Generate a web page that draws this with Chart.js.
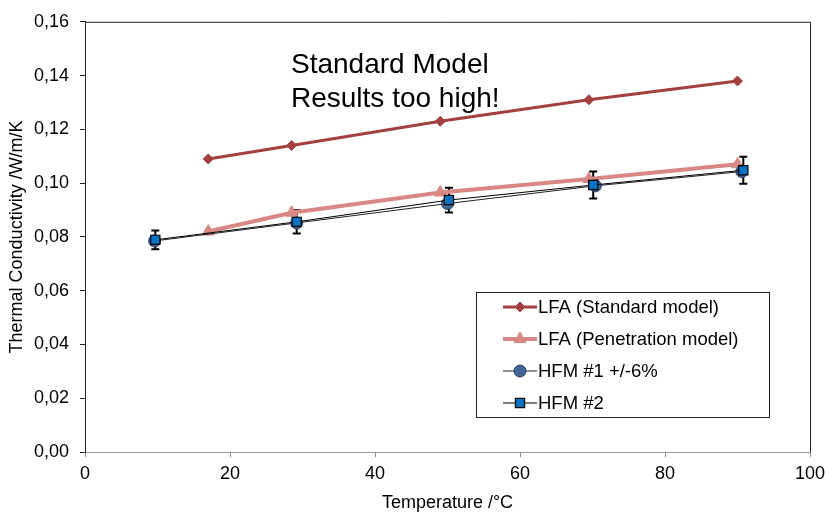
<!DOCTYPE html>
<html><head><meta charset="utf-8">
<script src="https://cdn.jsdelivr.net/npm/chart.js@4.4.1/dist/chart.umd.min.js"></script>
<style>html,body{margin:0;padding:0;background:#fff}#wrap{width:825px;height:516px}</style>
</head><body><div id="wrap"><canvas id="c" width="825" height="516"></canvas></div>
<script>
const stdX = [17, 28.5, 49, 69.5, 90];
const stdY = [0.109, 0.114, 0.123, 0.131, 0.138];
const penX = [17, 28.5, 49, 69.5, 90];
const penY = [0.082, 0.089, 0.0965, 0.1015, 0.107];
const hfm1X = [9.6, 29.2, 50, 70.4, 90.6];
const hfm1Y = [0.0785, 0.0852, 0.0924, 0.0990, 0.1043];
const hfm2X = [9.7, 29.2, 50.2, 70.1, 90.8];
const hfm2Y = [0.0789, 0.0856, 0.0937, 0.0993, 0.1048];
const hfm2Err = [0.0035, 0.0043, 0.0046, 0.005, 0.005];
const xTicks = [0, 20, 40, 60, 80, 100];
const yTicks = [0, 0.02, 0.04, 0.06, 0.08, 0.10, 0.12, 0.14, 0.16];
const noteLines = ["Standard Model", "Results too high!"];
const legendLabels = ["LFA (Standard model)", "LFA (Penetration model)", "HFM #1 +/-6%", "HFM #2"];

const pts = (xs, ys) => xs.map((x, i) => ({x: x, y: ys[i]}));
const FONT = "'Liberation Sans', Arial, sans-serif";

const datasets = [
  {label: legendLabels[0], data: pts(stdX, stdY), borderColor: '#A33F3F', backgroundColor: '#A33F3F',
   borderWidth: 3, pointStyle: 'rectRot', pointRadius: 5, pointBorderWidth: 1, order: 3},
  {label: legendLabels[1], data: pts(penX, penY), borderColor: '#D88784', backgroundColor: '#D88784',
   borderWidth: 4, pointStyle: 'triangle', pointRadius: 7, pointBorderWidth: 1, order: 2},
  {label: legendLabels[2], data: pts(hfm1X, hfm1Y), borderColor: '#222', backgroundColor: '#3F6496',
   borderWidth: 1, pointStyle: 'circle', pointRadius: 6, pointBorderColor: '#2a3f5f', pointBorderWidth: 1, order: 1},
  {label: legendLabels[3], data: pts(hfm2X, hfm2Y), borderColor: '#000', backgroundColor: '#0074C4',
   borderWidth: 1, pointStyle: 'rect', pointRadius: 6.5, pointBorderColor: '#000', pointBorderWidth: 1.2, order: 0}
];
datasets.forEach(d => { d.showLine = true; d.tension = 0; d.fill = false; });

const extras = {
  id: 'extras',
  beforeDatasetsDraw(chart) {
    const {ctx} = chart, xs = chart.scales.x, ys = chart.scales.y;
    ctx.save();
    ctx.strokeStyle = '#000'; ctx.lineWidth = 2;
    hfm2X.forEach((x, i) => {
      const px = xs.getPixelForValue(x);
      const t = ys.getPixelForValue(hfm2Y[i] + hfm2Err[i]);
      const b = ys.getPixelForValue(hfm2Y[i] - hfm2Err[i]);
      ctx.beginPath();
      ctx.moveTo(px, t); ctx.lineTo(px, b);
      ctx.moveTo(px - 4, t); ctx.lineTo(px + 4, t);
      ctx.moveTo(px - 4, b); ctx.lineTo(px + 4, b);
      ctx.stroke();
    });
    ctx.restore();
  },
  afterDraw(chart) {
    const {ctx, chartArea: a} = chart;
    ctx.save();
    ctx.strokeStyle = '#222'; ctx.lineWidth = 1;
    ctx.beginPath();
    ctx.moveTo(a.left, a.top + 0.5); ctx.lineTo(a.right + 0.5, a.top + 0.5); ctx.lineTo(a.right + 0.5, a.bottom);
    ctx.stroke();
    ctx.fillStyle = '#000'; ctx.font = '28px ' + FONT; ctx.textBaseline = 'alphabetic'; ctx.textAlign = 'left';
    ctx.fillText(noteLines[0], 291, 73);
    ctx.fillText(noteLines[1], 291, 107);
    const L = 476, T = 292, R = 769, B = 417;
    ctx.fillStyle = '#fff'; ctx.fillRect(L, T, R - L, B - T);
    ctx.strokeStyle = '#222'; ctx.lineWidth = 1;
    ctx.strokeRect(L + 0.5, T + 0.5, R - L, B - T);
    const rows = [307, 339, 371, 403];
    ctx.font = '18.5px ' + FONT; ctx.textBaseline = 'middle';
    chart.data.datasets.forEach((d, i) => {
      const y = rows[i];
      ctx.strokeStyle = d.borderColor; ctx.lineWidth = d.borderWidth;
      ctx.beginPath(); ctx.moveTo(503, y); ctx.lineTo(537, y); ctx.stroke();
      ctx.fillStyle = d.backgroundColor;
      ctx.strokeStyle = d.pointBorderColor || d.borderColor; ctx.lineWidth = d.pointBorderWidth;
      Chart.helpers.drawPoint(ctx, {pointStyle: d.pointStyle, radius: d.pointRadius, borderWidth: d.pointBorderWidth}, 520, y);
      ctx.fillStyle = '#000';
      ctx.fillText(d.label, 538, y + 1);
    });
    ctx.restore();
  }
};

new Chart(document.getElementById('c'), {
  type: 'scatter',
  data: {datasets},
  options: {
    responsive: false, animation: false, devicePixelRatio: 1,
    layout: {padding: {top: 20, right: 0, left: 0, bottom: 0}},
    plugins: {legend: {display: false}, tooltip: {enabled: false}},
    scales: {
      x: {
        type: 'linear', min: 0, max: 100,
        afterBuildTicks: s => { s.ticks = xTicks.map(v => ({value: v})); },
        afterFit: s => { s.height = 64; s.paddingRight = 15; },
        ticks: {color: '#000', font: {size: 18, family: FONT}, padding: 6, maxRotation: 0},
        grid: {drawOnChartArea: false, drawTicks: true, tickLength: 5, color: '#888'},
        border: {color: '#999', width: 1},
        title: {display: true, text: 'Temperature /°C', color: '#000', font: {size: 18, family: FONT}, padding: {top: 0, bottom: 2}}
      },
      y: {
        type: 'linear', min: 0, max: 0.16,
        afterBuildTicks: s => { s.ticks = yTicks.map(v => ({value: v})); },
        afterFit: s => { s.width = 85; },
        ticks: {color: '#000', font: {size: 18, family: FONT}, padding: 11,
                callback: v => v.toFixed(2).replace('.', ',')},
        grid: {drawOnChartArea: false, drawTicks: true, tickLength: 5, color: '#222'},
        border: {color: '#222', width: 1},
        title: {display: true, text: 'Thermal Conductivity /W/m/K', color: '#000', font: {size: 18, family: FONT}, padding: {top: 6, bottom: 0}}
      }
    }
  },
  plugins: [extras]
});
</script></body></html>
